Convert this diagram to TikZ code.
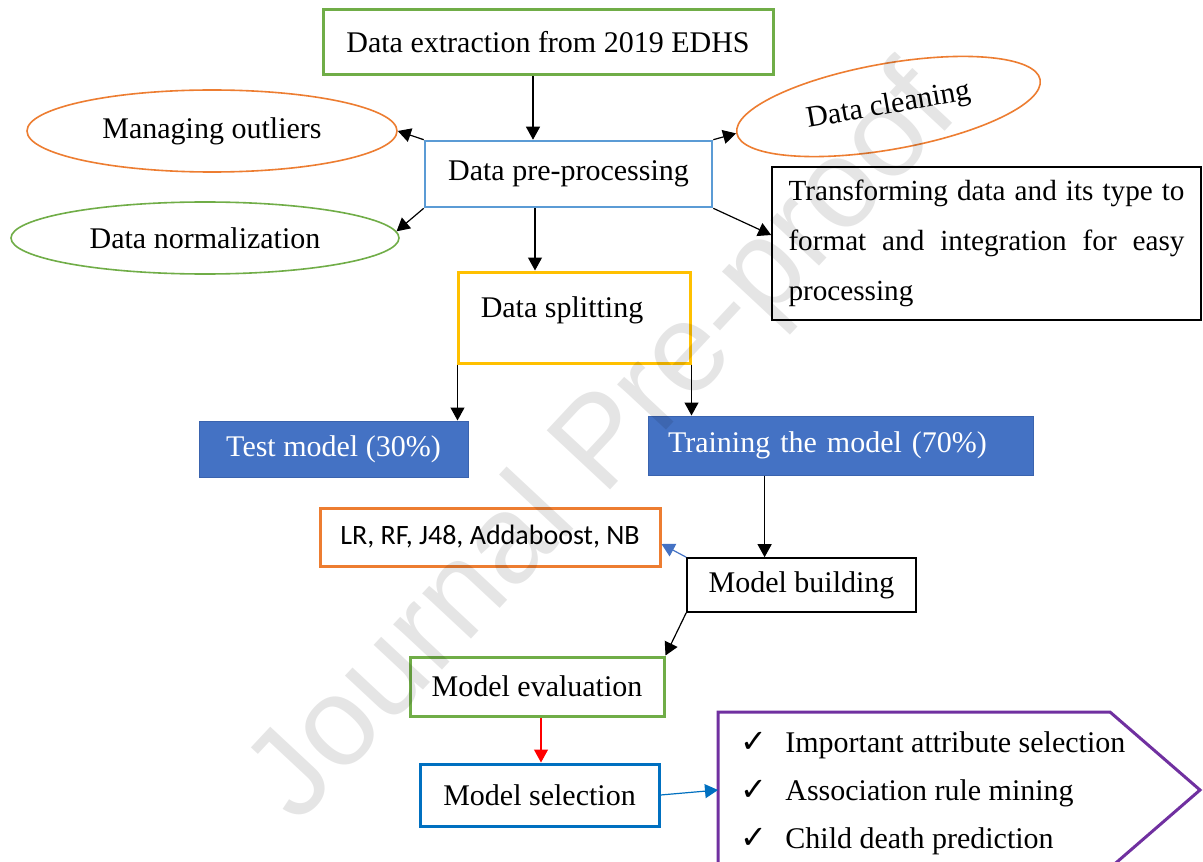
\documentclass[tikz,border=0pt]{standalone}
\usepackage{fontspec}
\setmainfont{Liberation Serif}
\newfontfamily\calibfont{Carlito}
\newfontfamily\symfont{DejaVu Sans}
\newfontfamily\markfont{Liberation Sans}
\usetikzlibrary{arrows.meta,shapes.geometric,calc}
\definecolor{cgreen}{HTML}{70AD47}
\definecolor{corange}{HTML}{ED7D31}
\definecolor{cblue}{HTML}{5B9BD5}
\definecolor{cyellow}{HTML}{FFC000}
\definecolor{cfill}{HTML}{4472C4}
\definecolor{cfilld}{HTML}{3A63AE}
\definecolor{cselblue}{HTML}{0070C0}
\definecolor{cpurple}{HTML}{7030A0}
\definecolor{carrblue}{HTML}{4472C4}
\tikzset{
  txt/.style={font=\fontsize{15}{18}\selectfont},
  rbox/.style={draw, rectangle, inner sep=0pt, txt},
  ell/.style={draw, ellipse, inner sep=0pt, line width=0.8pt, txt},
  arr/.style={-{Triangle[length=6.5pt,width=7pt]}, line width=0.6pt},
  chk/.style={anchor=base west, inner sep=0pt, font=\symfont\fontsize{16}{18}\selectfont},
  item/.style={txt, inner sep=0pt, anchor=base west},
}
\begin{document}
\begin{tikzpicture}[x=0.5pt,y=-0.5pt]
\useasboundingbox (0,0) rectangle (1203,861);
\fill[white] (0,0) rectangle (1203,861);

% upper part: extraction and pre-processing
\node[rbox, draw=cgreen, line width=1.5pt, minimum width=225pt, minimum height=32.5pt] (ext) at (548,42.5) {Data extraction from 2019 EDHS};
\node[ell, draw=corange, minimum width=185pt, minimum height=41pt] (outl) at (212,131) {Managing outliers};
\node[rbox, draw=cblue, line width=1.3pt, minimum width=143.5pt, minimum height=33pt] (pre) at (568.5,174) {Data pre-processing};
\node[ell, draw=corange, rotate=10, minimum width=154pt, minimum height=43pt] (clean) at (888.5,106.5) {Data cleaning};
\node[ell, draw=cgreen, minimum width=194pt, minimum height=36pt] (norm) at (205,238) {Data normalization};
\node[rbox, draw=black, line width=0.8pt, minimum width=214.5pt, minimum height=76.5pt, align=left, font=\fontsize{14.6}{25}\selectfont] (trans) at (986.5,243.5)
  {\makebox[198pt][s]{Transforming data and its type to}\\ \makebox[198pt][s]{format and integration for easy}\\ processing};

% splitting
\node[rbox, draw=cyellow, line width=1.5pt, minimum width=116pt, minimum height=45.5pt] (split) at (574,317.5) {};
\node[txt] (splitlbl) at (562,310) {Data splitting};
\node[rbox, fill=cfill, draw=cfilld, line width=0.5pt, text=white, minimum width=134.5pt, minimum height=28pt] (test) at (333.5,449) {Test model (30\%)};
\node[rbox, fill=cfill, draw=cfilld, line width=0.5pt, text=white, text width=172.5pt, inner xsep=10pt, minimum height=29.5pt, align=left] (train) at (840.5,445.5) {Training the model (70\%)};

% modelling
\node[rbox, draw=black, line width=0.8pt, minimum width=114.5pt, minimum height=27pt] (build) at (801.5,585) {Model building};
\node[rbox, draw=corange, line width=1.5pt, minimum width=170pt, minimum height=29pt, font=\calibfont\fontsize{14}{17}\selectfont] (algo) at (490,537) {LR, RF, J48, Addaboost, NB};
\node[rbox, draw=cgreen, line width=1.5pt, minimum width=127pt, minimum height=29.5pt] (eval) at (537,686.5) {Model evaluation};
\node[rbox, draw=cselblue, line width=1.5pt, minimum width=119.5pt, minimum height=31pt] (sel) at (539.5,795) {Model selection};

% outcome pentagon
\draw[cpurple, line width=1.5pt] (718,712) coordinate (o1) -- (1110,712) coordinate (o2) -- (1200,790) coordinate (o3) -- (1110,868) -- (718,868) -- cycle;
\coordinate (outw) at (718,790);
\node[chk] (c1) at (740,752) {✓};
\node[item] (i1) at (785,752) {Important attribute selection};
\node[chk] (c2) at (740,800) {✓};
\node[item] (i2) at (785,800) {Association rule mining};
\node[chk] (c3) at (740,848) {✓};
\node[item] (i3) at (785,848) {Child death prediction};

% connectors
\draw[arr] ([xshift=-7.5pt]ext.south) -- ([xshift=-7.5pt]ext.south |- pre.north);
\draw[arr] (pre.north west) -- (outl.east);
\draw[arr] (pre.south west) -- (norm.2);
\draw[arr] (pre.north east) -- (clean.west);
\draw[arr] (pre.south east) -- ([yshift=4.25pt]trans.west);
\draw[arr] ([xshift=-16.75pt]pre.south) -- ([xshift=-16.75pt]pre.south |- split.north);
\draw[arr] ([xshift=0.5pt]split.south west) -- ([xshift=0.5pt]split.south west |- test.north);
\draw[arr] (split.south east) -- (split.south east |- train.north);
\coordinate (bt) at ($(build.north west)!0.34!(build.north east)$);
\draw[arr] (bt |- train.south) -- (bt);
\draw[arr, carrblue] (build.north west) -- ([yshift=-3.5pt]algo.east);
\draw[arr] (build.south west) -- (eval.north east);
\draw[arr, red] ([xshift=2pt]eval.south) -- ([xshift=2pt]eval.south |- sel.north);
\draw[arr, cselblue] (sel.east) -- (outw);

% watermark
\node[font=\markfont\fontsize{63}{63}\selectfont, text=black, opacity=0.1, rotate=47] (wm) at (606,447) {Journal Pre-proof};
\end{tikzpicture}
\end{document}
